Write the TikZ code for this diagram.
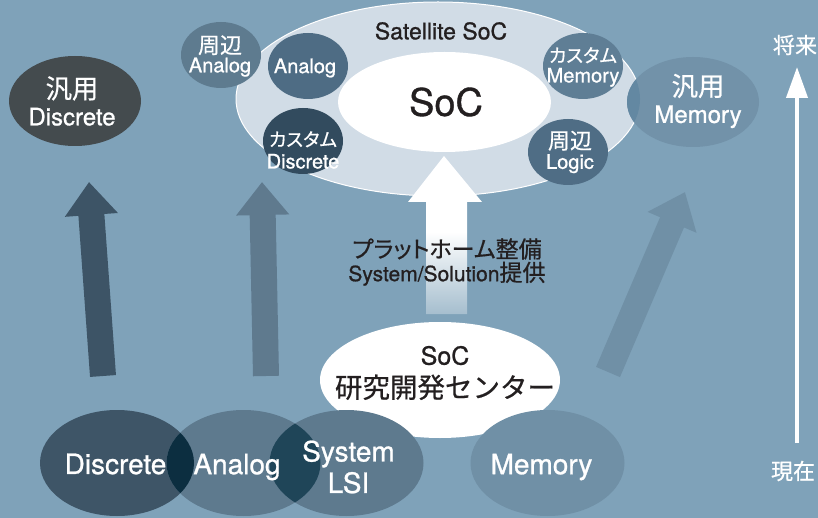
\documentclass[tikz,border=0pt]{standalone}
\usepackage{fontspec}
\setmainfont{TeX Gyre Heros}[FakeBold=0.9]
\newfontfamily\jpfont[Scale=1.1,FakeBold=0.6]{Noto Sans CJK JP}
\newfontfamily\jpnarrow[Scale=1.1,FakeBold=0.6,RawFeature=+palt]{Noto Sans CJK JP}
\newcommand{\ja}[1]{{\jpfont #1}}
\newcommand{\jk}[1]{{\jpnarrow #1}}
\newcommand{\jks}[1]{{\fontsize{17}{20}\jpnarrow #1}}
\usetikzlibrary{positioning, arrows.meta, shapes.geometric}

\definecolor{bgc}{HTML}{7FA2B9}
\definecolor{satc}{HTML}{D1DCE6}
\definecolor{gendisc}{HTML}{444B4E}
\definecolor{perana}{HTML}{5E7B8F}
\definecolor{anac}{HTML}{4E6C84}
\definecolor{cusdisc}{HTML}{324B5E}
\definecolor{cusmem}{HTML}{5F7E95}
\definecolor{perlog}{HTML}{4F6D85}
\definecolor{genmem}{HTML}{7292A9}
\definecolor{genmemov}{HTML}{6388A2}
\definecolor{discc}{HTML}{3E5567}
\definecolor{anab}{HTML}{5E7A8E}
\definecolor{memc}{HTML}{7090A6}
\definecolor{ovda}{HTML}{0C2E40}
\definecolor{ovals}{HTML}{1F4558}
\definecolor{arrA}{HTML}{3D5466}
\definecolor{arrB}{HTML}{5F7A8E}
\definecolor{arrC}{HTML}{7090A6}
\definecolor{ink}{HTML}{231F20}
\colorlet{fadec}{bgc!70!white}

\pgfdeclareverticalshading{platfade}{100bp}{color(0bp)=(fadec); color(25bp)=(fadec); color(51bp)=(white); color(100bp)=(white)}

\begin{document}
\begin{tikzpicture}[
x=1pt, y=-1pt,
blob/.style={
	ellipse,
	inner sep=0pt,
	minimum width=80pt,
	minimum height=66pt
},
bigblob/.style={
	ellipse,
	inner sep=0pt,
	minimum width=132pt,
	minimum height=90pt
},
baseblob/.style={
	ellipse,
	inner sep=0pt,
	minimum width=154pt,
	minimum height=106pt
},
wtxt/.style={text=white, align=center, inner sep=0pt},
ktxt/.style={text=ink, align=center, inner sep=0pt},
bigarrow/.style={
	line width=26pt, -{Triangle[width=51pt, length=33pt]}
}
]

% Background
\fill[bgc] (0,0) rectangle (818,518);
\useasboundingbox (0,0) rectangle (818,518);

% Growth arrows
\coordinate (discFrom) at (103,376);
\coordinate (discTo) at (89,182);
\coordinate (anaFrom) at (266,376);
\coordinate (anaTo) at (262,182);
\coordinate (memFrom) at (608,372);
\coordinate (memTo) at (685,192);
\draw[bigarrow, arrA] (discFrom) -- (discTo);
\draw[bigarrow, arrB] (anaFrom) -- (anaTo);
\draw[bigarrow, arrC] (memFrom) -- (memTo);

% Satellite SoC
\node[ellipse, inner sep=0pt, fill=satc, draw=white, line width=1pt,
	minimum width=404pt, minimum height=194pt] (sat) at (438,99) {};
\node[ellipse, inner sep=0pt, fill=white,
	minimum width=213pt, minimum height=100pt] (core) at (444.5,102) {};
\node[ktxt, font=\fontsize{23}{25}\selectfont] (satT) at (441,31) {Satellite SoC};
\node[ktxt, font=\fontsize{38}{40}\selectfont] (coreT) at (446,102) {SoC};

% Blobs round the core
\node[blob, fill=perana] (perAna) at (221,55) {};
\node[blob, fill=anac] (anaSat) at (308,66) {};
\node[blob, fill=cusdisc] (cusDisc) at (303,141) {};
\node[blob, fill=cusmem] (cusMem) at (583,66) {};
\node[blob, fill=perlog] (perLog) at (568,152) {};
\node[bigblob, fill=gendisc] (genDisc) at (75,101) {};
\node[bigblob, fill=genmem] (genMem) at (693,102) {};
\begin{scope}
	\clip (sat.center) ellipse [x radius=202pt, y radius=97pt];
	\fill[genmemov] (genMem.center) ellipse [x radius=66pt, y radius=45pt];
\end{scope}

\node[wtxt, font=\fontsize{20}{19}\selectfont] (perAnaT) at (220,56) {\ja{周辺}\\Analog};
\node[wtxt, font=\fontsize{20}{20}\selectfont] (anaSatT) at (305,68) {Analog};
\node[wtxt, font=\fontsize{20}{22}\selectfont] (cusDiscT) at (303,150) {\jks{カスタム}\\Discrete};
\node[wtxt, font=\fontsize{20}{20}\selectfont] (cusMemT) at (583,67) {\jks{カスタム}\\Memory};
\node[wtxt, font=\fontsize{20}{20}\selectfont] (perLogT) at (570,152) {\ja{周辺}\\Logic};
\node[wtxt, font=\fontsize{24}{27}\selectfont] (genDiscT) at (72,101) {\ja{汎用}\\Discrete};
\node[wtxt, font=\fontsize{24}{27}\selectfont] (genMemT) at (698,101) {\ja{汎用}\\Memory};

% Platform arrow
\shade[shading=platfade] (426,314) -- (426,202) -- (408,202) -- (444,156)
	-- (482,202) -- (467,202) -- (467,314) -- cycle;
\node[ktxt, font=\fontsize{21}{23.5}\selectfont] (platT) at (447,262)
	{\jk{プラットホーム整備}\\System/Solution\ja{提供}};

% Research center
\node[ellipse, inner sep=0pt, fill=white,
	minimum width=240pt, minimum height=116pt] (lab) at (440,380) {};
\node[ktxt, font=\fontsize{25}{33}\selectfont] (labT) at (445,373) {SoC\\\ja{研究開発センター}};

% Present technologies
\node[baseblob, fill=discc] (discB) at (117,463) {};
\node[baseblob, fill=anab] (anaB) at (243.5,463) {};
\node[baseblob, fill=anab] (lsiB) at (346.5,463) {};
\node[baseblob, fill=memc] (memB) at (547.5,463) {};
\begin{scope}
	\clip (discB.center) ellipse [x radius=77pt, y radius=53pt];
	\fill[ovda] (anaB.center) ellipse [x radius=77pt, y radius=53pt];
\end{scope}
\begin{scope}
	\clip (anaB.center) ellipse [x radius=77pt, y radius=53pt];
	\fill[ovals] (lsiB.center) ellipse [x radius=77pt, y radius=53pt];
\end{scope}
\node[wtxt, font=\fontsize{28}{31.5}\selectfont] (discBT) at (115.5,464) {Discrete};
\node[wtxt, font=\fontsize{28}{31.5}\selectfont] (anaBT) at (237,467) {Analog};
\node[wtxt, font=\fontsize{28}{31.5}\selectfont] (lsiBT) at (348.5,467) {System\\LSI};
\node[wtxt, font=\fontsize{28}{31.5}\selectfont] (memBT) at (541.5,467) {Memory};

% Time axis
\coordinate (now) at (797,443);
\coordinate (future) at (797,67);
\draw[white, line width=4pt, -{Triangle[width=21pt, length=31pt]}] (now) -- (future);
\node[wtxt, font=\fontsize{20}{20}\selectfont] (futureT) at (795,45) {\ja{将来}};
\node[wtxt, font=\fontsize{20}{20}\selectfont] (nowT) at (793,471) {\ja{現在}};

\end{tikzpicture}
\end{document}
